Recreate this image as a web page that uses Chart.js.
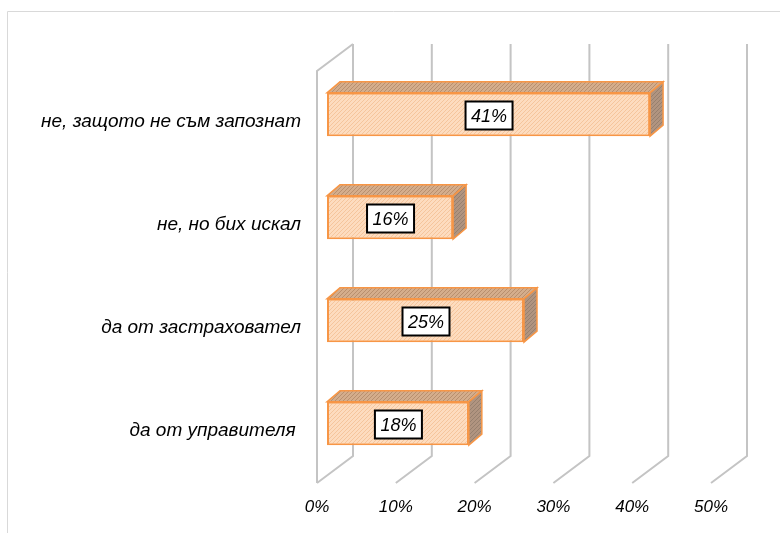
<!DOCTYPE html>
<html>
<head>
<meta charset="utf-8">
<script src="https://cdn.jsdelivr.net/npm/chart.js@4"></script>
<style>
  body { margin: 0; background: #fff; }
  #wrap { position: relative; width: 780px; height: 533px; }
</style>
</head>
<body>
<div id="wrap"><canvas id="myChart"></canvas></div>
<script>
const labels = ['не, защото не съм запознат', 'не, но бих искал', 'да от застраховател', 'да от управителя '];
const values = [41, 16, 25, 18];
const tickValues = [0, 10, 20, 30, 40, 50];

const ctx = document.getElementById('myChart');
const fontFamily = '"Liberation Sans", Arial, sans-serif';

function hatch(base, line) {
    const c = document.createElement('canvas');
    c.width = 4; c.height = 4;
    const g = c.getContext('2d');
    g.fillStyle = base;
    g.fillRect(0, 0, 4, 4);
    g.strokeStyle = line;
    g.lineWidth = 1;
    g.beginPath();
    g.moveTo(0, 4); g.lineTo(4, 0);
    g.moveTo(-1, 1); g.lineTo(1, -1);
    g.moveTo(3, 5); g.lineTo(5, 3);
    g.stroke();
    return g.createPattern(c, 'repeat');
}

const frontFill = hatch('#fddcbf', '#f5c59c');
const topFill = hatch('#d4ad8c', '#b88f6e');
const sideFill = hatch('#b09480', '#97806e');

// depth offsets relative to the plane of the bar fronts
const back = { x: 26, y: -19 };
const front = { x: -10, y: 8 };
const barDepth = { x: 13, y: -11 };

const walls = {
    id: 'walls',
    beforeDraw(chart) {
        const c = chart.ctx;
        c.save();
        c.strokeStyle = '#d9d9d9';
        c.lineWidth = 1;
        c.beginPath();
        c.moveTo(7.5, 533);
        c.lineTo(7.5, 11.5);
        c.lineTo(780, 11.5);
        c.stroke();
        c.restore();
    },
    beforeDatasetsDraw(chart) {
        const c = chart.ctx;
        const a = chart.chartArea;
        const sx = chart.scales.x;
        c.save();
        c.strokeStyle = '#c4c4c4';
        c.lineWidth = 2;
        tickValues.forEach(v => {
            const px = sx.getPixelForValue(v);
            c.beginPath();
            c.moveTo(px + back.x, a.top + back.y);
            c.lineTo(px + back.x, a.bottom + back.y);
            c.lineTo(px + front.x, a.bottom + front.y);
            c.stroke();
        });
        const x0 = sx.getPixelForValue(0);
        c.beginPath();
        c.moveTo(x0 + back.x, a.top + back.y);
        c.lineTo(x0 + front.x, a.top + front.y);
        c.lineTo(x0 + front.x, a.bottom + front.y);
        c.stroke();

        // top and side faces of the bars
        const meta = chart.getDatasetMeta(0);
        c.strokeStyle = '#f79646';
        c.lineWidth = 1.5;
        meta.data.forEach(bar => {
            const top = bar.y - bar.height / 2;
            const bot = bar.y + bar.height / 2;
            c.beginPath();
            c.moveTo(bar.base, top);
            c.lineTo(bar.base + barDepth.x, top + barDepth.y);
            c.lineTo(bar.x + barDepth.x, top + barDepth.y);
            c.lineTo(bar.x, top);
            c.closePath();
            c.fillStyle = topFill;
            c.fill();
            c.stroke();
            c.beginPath();
            c.moveTo(bar.x, top);
            c.lineTo(bar.x + barDepth.x, top + barDepth.y);
            c.lineTo(bar.x + barDepth.x, bot + barDepth.y);
            c.lineTo(bar.x, bot);
            c.closePath();
            c.fillStyle = sideFill;
            c.fill();
            c.stroke();
        });
        c.restore();
    },
    afterDatasetsDraw(chart) {
        const c = chart.ctx;
        const meta = chart.getDatasetMeta(0);
        c.save();
        c.font = 'italic 18px ' + fontFamily;
        c.textAlign = 'center';
        c.textBaseline = 'middle';
        meta.data.forEach((bar, i) => {
            const cx = (bar.base + bar.x) / 2;
            const cy = bar.y + 1;
            c.fillStyle = '#fff';
            c.fillRect(cx - 23, cy - 14, 47, 28);
            c.strokeStyle = '#000';
            c.lineWidth = 2;
            c.strokeRect(cx - 23, cy - 14, 47, 28);
            c.fillStyle = '#000';
            c.fillText(values[i] + '%', cx + 0.5, cy + 1);
        });
        c.restore();
    }
};

new Chart(ctx, {
    type: 'bar',
    data: {
        labels: labels,
        datasets: [{
            data: values,
            backgroundColor: frontFill,
            borderColor: '#f79646',
            borderWidth: 2,
            borderSkipped: false,
            categoryPercentage: 1,
            barPercentage: 0.42,
        }],
    },
    options: {
        indexAxis: 'y',
        responsive: true,
        maintainAspectRatio: false,
        animation: false,
        layout: {
            padding: { top: 63, right: 59, left: 0, bottom: 0 },
        },
        scales: {
            x: {
                min: 0,
                max: 50,
                grid: { display: false, drawTicks: false },
                border: { display: false },
                afterFit: s => { s.height = 58; },
                ticks: {
                    stepSize: 10,
                    callback: v => v + '%',
                    color: '#000',
                    padding: 22,
                    labelOffset: -10,
                    maxRotation: 0,
                    font: { family: fontFamily, size: 17, style: 'italic' },
                },
            },
            y: {
                grid: { display: false, drawTicks: false },
                border: { display: false },
                afterFit: s => { s.width = 327; },
                ticks: {
                    color: '#000',
                    padding: 26,
                    labelOffset: 7,
                    font: { family: fontFamily, size: 19, style: 'italic' },
                },
            },
        },
        plugins: {
            legend: { display: false },
            tooltip: { enabled: false },
        },
    },
    plugins: [walls],
});
</script>
</body>
</html>
